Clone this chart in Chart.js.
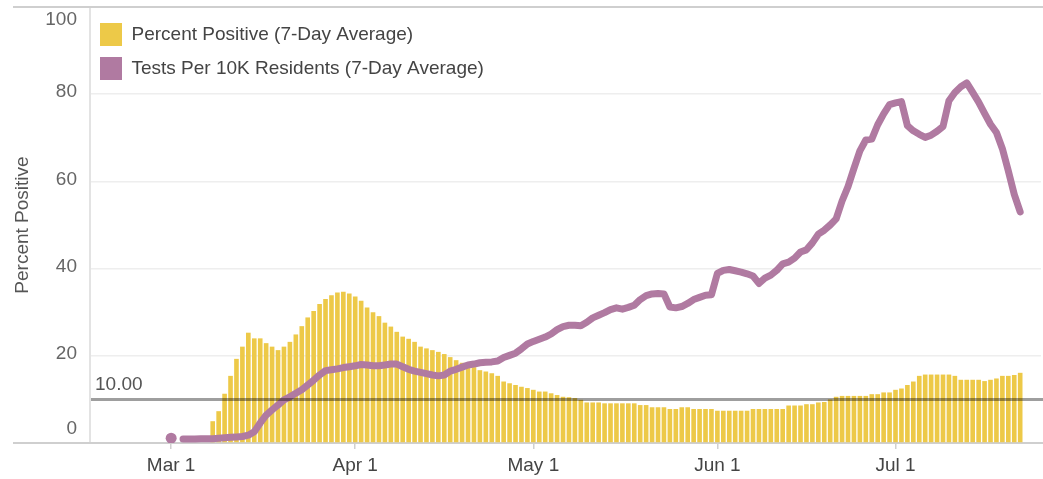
<!DOCTYPE html>
<html>
<head>
<meta charset="utf-8">
<script src="https://cdn.jsdelivr.net/npm/chart.js@4.4.1/dist/chart.umd.min.js"></script>
<style>
html,body{margin:0;padding:0;background:#fff;}
#wrap{width:1043px;height:479px;position:relative;}
</style>
</head>
<body>
<div id="wrap"><canvas id="c"></canvas></div>
<script>
// ---- categories: one per day, Feb 17 .. Jul 25 (2020)
const MONTHS = ['Jan','Feb','Mar','Apr','May','Jun','Jul','Aug','Sep','Oct','Nov','Dec'];
const firstDay = [2020, 1, 17];
const dayCount = 160;
const dayLabels = [];
for (let i = 0; i < dayCount; i++) {
  const dt = new Date(Date.UTC(firstDay[0], firstDay[1], firstDay[2] + i));
  dayLabels.push(MONTHS[dt.getUTCMonth()] + ' ' + dt.getUTCDate());
}
const leadingEmptyDays = 13;   // Feb 17 - Feb 29 have no data
const xTickLabels = ['Mar 1', 'Apr 1', 'May 1', 'Jun 1', 'Jul 1'];
const yTicks = [0, 20, 40, 60, 80, 100];
const thresholdValue = 10;
const thresholdLabel = '10.00';

// ---- series, starting Mar 1
const percentPositive = [
  // Mar
  null, null, null, null, null, null, null, 5.0, 7.3, 11.3, 15.4, 19.3, 22.1, 25.3, 24.0, 24.0,
  22.9, 22.1, 21.3, 22.1, 23.2, 24.9, 26.8, 28.8, 30.3, 31.9, 33.0, 33.9, 34.5, 34.7, 34.3,
  // Apr
  33.6, 32.6, 31.1, 30.0, 29.1, 27.6, 26.7, 25.5, 24.4, 23.9, 23.2, 22.1, 21.7, 21.3, 20.9,
  20.4, 19.7, 19.0, 18.4, 17.9, 17.4, 16.7, 16.4, 16.0, 15.4, 14.1, 13.7, 13.3, 12.9, 12.6,
  // May
  12.2, 11.8, 11.8, 11.4, 11.0, 10.6, 10.5, 10.3, 9.9, 9.3, 9.3, 9.3, 9.1, 9.1, 9.1, 9.1,
  9.1, 9.1, 8.7, 8.7, 8.2, 8.2, 8.2, 7.8, 7.8, 8.2, 8.2, 7.8, 7.8, 7.8, 7.8,
  // Jun
  7.4, 7.4, 7.4, 7.4, 7.4, 7.4, 7.8, 7.8, 7.8, 7.8, 7.8, 7.8, 8.6, 8.6, 8.6,
  8.9, 8.9, 9.3, 9.4, 10.0, 10.6, 10.8, 10.8, 10.8, 10.8, 10.8, 11.2, 11.2, 11.6, 11.6,
  // Jul
  12.2, 12.5, 13.3, 14.1, 15.4, 15.7, 15.7, 15.7, 15.7, 15.7, 15.4,
  14.5, 14.5, 14.5, 14.5, 14.2, 14.5, 14.8, 15.4, 15.4, 15.6, 16.1
];
const testsPer10k = [
  // Mar
  1.1, null, 0.9, 0.9, 0.9, 1.0, 1.0, 1.0, 1.1, 1.2, 1.3, 1.4, 1.5, 1.8, 2.6, 4.6,
  6.4, 7.6, 8.7, 9.9, 10.6, 11.4, 12.2, 13.3, 14.4, 15.6, 16.6, 16.8, 17.0, 17.3, 17.5,
  // Apr
  17.7, 18.0, 17.9, 17.7, 17.7, 17.9, 18.1, 18.1, 17.5, 16.9, 16.5, 16.2, 15.9, 15.6, 15.4,
  15.6, 16.5, 16.9, 17.4, 17.9, 18.1, 18.4, 18.5, 18.6, 18.8, 19.6, 20.1, 20.6, 21.6, 22.7,
  // May
  23.3, 23.8, 24.3, 25.0, 26.0, 26.7, 27.0, 27.0, 26.9, 27.7, 28.7, 29.3, 29.9, 30.6, 31.0, 30.7,
  31.1, 31.6, 32.9, 33.8, 34.2, 34.3, 34.2, 31.2, 31.0, 31.3, 32.0, 32.9, 33.4, 33.9, 34.0,
  // Jun
  38.9, 39.6, 39.8, 39.5, 39.2, 38.8, 38.3, 36.6, 37.8, 38.5, 39.6, 41.1, 41.5, 42.4, 43.8,
  44.3, 45.9, 47.9, 48.8, 50.0, 51.4, 55.5, 58.8, 63.0, 67.0, 69.5, 69.7, 73.0, 75.5, 77.6,
  // Jul
  78.0, 78.3, 72.8, 71.6, 70.8, 70.1, 70.6, 71.5, 72.6, 78.5, 80.4,
  81.7, 82.6, 80.4, 78.2, 75.6, 73.1, 71.2, 67.5, 62.4, 57.0, 53.0
];

function pad(series) {
  const out = new Array(leadingEmptyDays).fill(null).concat(series);
  while (out.length < dayCount) out.push(null);
  return out;
}

const FONT = 'Liberation Sans, Arial, sans-serif';
const YELLOW = '#EDC948';
const PURPLE = '#B07AA1';

const decor = {
  id: 'decor',
  afterLayout(chart) {
    const a = chart.chartArea;
    if (chart.legend) {
      chart.legend.left = a.left - 2;
      chart.legend.top = a.top + 5;
    }
  },
  beforeDraw(chart) {
    const {ctx, chartArea: a, scales: {y}} = chart;
    ctx.save();
    ctx.strokeStyle = '#dadada';
    ctx.lineWidth = 1.5;
    ctx.beginPath();
    ctx.moveTo(a.left - 1, a.top);
    ctx.lineTo(a.left - 1, a.bottom);
    ctx.stroke();
    ctx.strokeStyle = '#cfcfcf';
    ctx.lineWidth = 2;
    [y.max, y.min].forEach(v => {
      const py = Math.round(y.getPixelForValue(v));
      ctx.beginPath();
      ctx.moveTo(13, py);
      ctx.lineTo(chart.width, py);
      ctx.stroke();
    });
    ctx.restore();
  },
  afterDraw(chart) {
    const {ctx, chartArea: a, scales: {y}} = chart;
    ctx.save();
    ctx.fillStyle = '#666';
    ctx.font = '19px ' + FONT;
    ctx.textAlign = 'right';
    ctx.textBaseline = 'middle';
    yTicks.forEach(v => {
      let py = y.getPixelForValue(v) - 2;
      if (v === y.max) py = a.top + 13;
      if (v === y.min) py = a.bottom - 14;
      ctx.fillText(String(v), a.left - 14, py);
    });
    ctx.restore();
  },
  afterDatasetsDraw(chart) {
    const {ctx, chartArea: a, scales: {y}} = chart;
    const py = y.getPixelForValue(thresholdValue);
    ctx.save();
    ctx.strokeStyle = 'rgba(0,0,0,0.38)';
    ctx.lineWidth = 3;
    ctx.beginPath();
    ctx.moveTo(a.left, py);
    ctx.lineTo(chart.width, py);
    ctx.stroke();
    ctx.fillStyle = '#555';
    ctx.font = '19px ' + FONT;
    ctx.textAlign = 'left';
    ctx.textBaseline = 'middle';
    ctx.fillText(thresholdLabel, a.left + 4, py - 15);
    ctx.restore();
  }
};

new Chart(document.getElementById('c'), {
  type: 'bar',
  data: {
    labels: dayLabels,
    datasets: [
      {
        label: 'Percent Positive (7-Day Average)',
        data: pad(percentPositive),
        backgroundColor: YELLOW,
        borderWidth: 0,
        barPercentage: 0.78,
        categoryPercentage: 1.0,
        order: 2
      },
      {
        type: 'line',
        label: 'Tests Per 10K Residents (7-Day Average)',
        data: pad(testsPer10k),
        borderColor: PURPLE,
        backgroundColor: PURPLE,
        borderWidth: 7,
        tension: 0,
        spanGaps: false,
        borderJoinStyle: 'round',
        borderCapStyle: 'round',
        pointBorderWidth: 0,
        pointBackgroundColor: PURPLE,
        pointRadius: ctx => {
          const d = ctx.dataset.data, i = ctx.dataIndex;
          return (d[i] != null && d[i - 1] == null && d[i + 1] == null) ? 5.5 : 0;
        },
        order: 1
      }
    ]
  },
  options: {
    animation: false,
    responsive: true,
    maintainAspectRatio: false,
    devicePixelRatio: 1,
    layout: {padding: {top: 7, left: 0, right: 0, bottom: 0}},
    plugins: {
      tooltip: {enabled: false},
      legend: {
        position: 'chartArea',
        align: 'start',
        labels: {
          boxWidth: 22,
          boxHeight: 23,
          padding: 11,
          color: '#444',
          font: {family: FONT, size: 19},
          sort: (a, b) => a.datasetIndex - b.datasetIndex,
          generateLabels: chart =>
            Chart.defaults.plugins.legend.labels.generateLabels(chart)
              .map(l => Object.assign(l, {lineWidth: 0, strokeStyle: 'rgba(0,0,0,0)'}))
        }
      }
    },
    scales: {
      x: {
        type: 'category',
        offset: true,
        border: {display: false},
        grid: {
          offset: false,
          drawOnChartArea: false,
          drawTicks: true,
          tickLength: 6,
          lineWidth: 1.5,
          color: ctx => (ctx.tick && xTickLabels.includes(dayLabels[ctx.index])) ? '#d0d0d0' : 'rgba(0,0,0,0)'
        },
        ticks: {
          autoSkip: false,
          maxRotation: 0,
          minRotation: 0,
          padding: 5,
          color: '#444',
          font: {family: FONT, size: 19},
          callback: (v, i) => xTickLabels.includes(dayLabels[i]) ? dayLabels[i] : ''
        },
        afterFit: s => { s.height = 36; }
      },
      y: {
        min: 0,
        max: 100,
        border: {display: false},
        afterBuildTicks: s => { s.ticks = yTicks.map(v => ({value: v})); },
        afterFit: s => { s.width = 91; },
        grid: {
          drawTicks: false,
          lineWidth: 1.5,
          color: ctx => (ctx.tick && (ctx.tick.value === 0 || ctx.tick.value === 100)) ? 'rgba(0,0,0,0)' : '#eeeeee'
        },
        ticks: {display: false},
        title: {
          display: true,
          text: 'Percent Positive',
          color: '#555',
          font: {family: FONT, size: 19},
          padding: {top: 11, bottom: 0}
        }
      }
    }
  },
  plugins: [decor]
});
</script>
</body>
</html>
